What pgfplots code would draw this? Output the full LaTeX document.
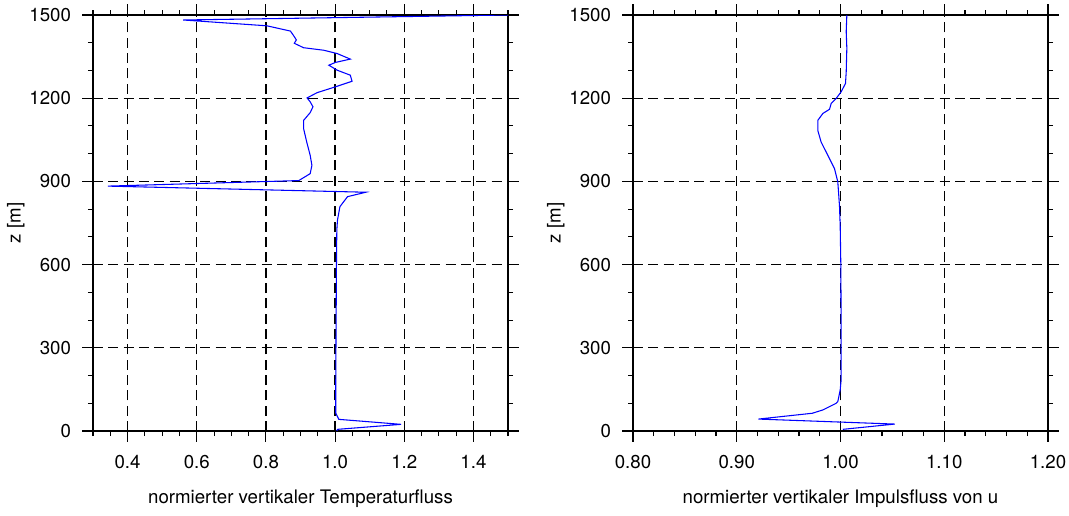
\documentclass[border=0pt]{standalone}
\usepackage{fontspec}
\setmainfont{TeX Gyre Heros}
\usepackage{pgfplots}
\pgfplotsset{compat=1.18}

\pgfplotstableread{
x z
1.5 1500
0.561 1482
0.803 1461
0.871 1442
0.882 1422
0.888 1410
0.882 1398
0.909 1382
0.967 1373
1.006 1361
1.044 1341
1.001 1329
0.982 1319
1.006 1301
1.044 1283
1.049 1261
1.001 1241
0.948 1220
0.919 1201
0.928 1187
0.936 1169
0.928 1148
0.909 1120
0.909 1090
0.918 1042
0.928 994
0.933 958
0.928 928
0.895 903
0.343 883
1.089 861
1.036 845
1.014 809
1.007 761
1.005 725
1.004 600
1.003 400
1.002 184
1.002 64
1.011 42
1.191 24
1.007 6
1.005 0
}\temptable

\pgfplotstableread{
x z
1.0061 1500
1.0055 1440
1.0061 1380
1.0055 1295
1.0048 1253
1.0006 1223
0.9958 1199
0.9910 1181
0.9894 1160
0.9830 1145
0.9781 1120
0.9781 1084
0.9813 1042
0.9878 994
0.9942 946
0.9974 898
0.9990 813
0.9997 741
1.0003 600
1.0006 400
1.0006 184
0.9997 148
0.9974 106
0.9958 100
0.9830 76
0.9728 64
0.9208 43
1.0524 25
1.0022 6
}\impulstable

\pgfplotsset{
  myax/.style={
    scale only axis, width=311.25pt, height=312pt,
    anchor=south west,
    ymin=0, ymax=1500,
    ytick={0,300,600,900,1200,1500},
    minor ytick={100,200,400,500,700,800,1000,1100,1300,1400},
    tick align=outside,
    major tick length=8pt, minor tick length=3.75pt,
    grid=major,
    major grid style={black, line width=1pt, dash pattern=on 7.5pt off 4pt},
    axis line style={black, line width=0.8pt},
    every tick/.style={black, line width=0.8pt},
    tick label style={font=\fontsize{14pt}{17pt}\selectfont},
    /pgf/number format/assume math mode=true,
    yticklabel style={/pgf/number format/1000 sep={}, xshift=-5pt},
    xticklabel style={yshift=-7pt},
    ylabel={z [m]},
    every axis y label/.style={at={(axis description cs:-0.186,0.5)}, anchor=center, rotate=90, font=\fontsize{14pt}{17pt}\selectfont},
    every axis x label/.style={at={(axis description cs:0.5,-0.163)}, anchor=center, font=\fontsize{14pt}{17pt}\selectfont},
    clip=true,
  }
}

\begin{document}
\begin{tikzpicture}
\path[use as bounding box] (-69.75pt,-63pt) rectangle (732pt,323.25pt);
\begin{axis}[myax, at={(0pt,0pt)},
  xmin=0.3, xmax=1.5,
  xtick={0.4,0.6,0.8,1.0,1.2,1.4},
  minor xtick={0.3,0.35,0.45,0.5,0.55,0.65,0.7,0.75,0.85,0.9,0.95,1.05,1.1,1.15,1.25,1.3,1.35,1.45,1.5},
  xticklabel style={/pgf/number format/.cd, fixed, fixed zerofill, precision=1},
  xlabel={normierter vertikaler Temperaturfluss}]
\addplot[blue, line width=0.8pt, no markers] table[x=x,y=z] {\temptable};
\end{axis}
\begin{axis}[myax, at={(405pt,0pt)},
  xmin=0.8, xmax=1.2,
  xtick={0.8,0.9,1.0,1.1,1.2},
  minor xtick={0.82,0.84,0.86,0.88,0.92,0.94,0.96,0.98,1.02,1.04,1.06,1.08,1.12,1.14,1.16,1.18},
  xticklabel style={/pgf/number format/.cd, fixed, fixed zerofill, precision=2},
  xlabel={normierter vertikaler Impulsfluss von u}]
\addplot[blue, line width=0.8pt, no markers] table[x=x,y=z] {\impulstable};
\end{axis}
\end{tikzpicture}
\end{document}
